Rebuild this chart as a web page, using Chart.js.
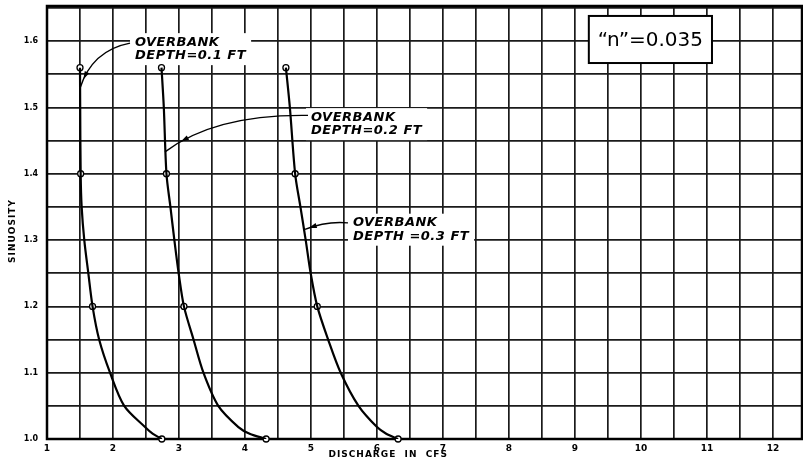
<!DOCTYPE html>
<html><head><meta charset="utf-8">
<script src="https://cdn.jsdelivr.net/npm/chart.js@4"></script>
<style>html,body{margin:0;padding:0;background:#fff;overflow:hidden}#wrap{position:relative;width:803px;height:467px}</style>
</head><body><div id="wrap"><canvas id="c"></canvas></div>
<script>
// ---- data ----
const seriesLabels = ['OVERBANK DEPTH=0.1 FT', 'OVERBANK DEPTH=0.2 FT', 'OVERBANK DEPTH=0.3 FT'];
// measured points (open circles)
const sinuosityMeasured = [1.56, 1.4, 1.2, 1.0];
const dischargeMeasured01 = [1.5, 1.51, 1.69, 2.74];
const dischargeMeasured02 = [2.735, 2.81, 3.075, 4.32];
const dischargeMeasured03 = [4.62, 4.76, 5.095, 6.32];
// points
const curveSinuosity = [1.56, 1.5, 1.4, 1.35, 1.3, 1.25, 1.2, 1.15, 1.1, 1.05, 1.018, 1.008, 1.0];
const curveDischarge01 = [1.5, 1.503, 1.51, 1.525, 1.565, 1.626, 1.69, 1.79, 1.955, 2.17, 2.485, 2.6, 2.74];
const curveDischarge02 = [2.735, 2.77, 2.81, 2.87, 2.93, 2.995, 3.075, 3.22, 3.37, 3.595, 3.90, 4.07, 4.32];
const curveDischarge03 = [4.62, 4.68, 4.76, 4.84, 4.92, 4.995, 5.095, 5.26, 5.45, 5.72, 6.0, 6.14, 6.32];
// axes
const xTickLabels = ['1','2','3','4','5','6','7','8','9','10','11','12'];
const yTickLabels = ['1.0','1.1','1.2','1.3','1.4','1.5','1.6'];
const xTitle = 'DISCHARGE  IN  CFS';
const yTitle = 'SINUOSITY';
const boxText = '\u201Cn\u201D=0.035';

const pts = (xs, ys) => xs.map((x, i) => ({x: x, y: ys[i]}));
const curves = [curveDischarge01, curveDischarge02, curveDischarge03];
const measured = [dischargeMeasured01, dischargeMeasured02, dischargeMeasured03];

const datasets = [];
curves.forEach((c, i) => datasets.push({
  label: seriesLabels[i], data: pts(c, curveSinuosity), showLine: true,
  borderColor: '#000', borderWidth: 2.2, pointRadius: 0, tension: 0.3, fill: false
}));
measured.forEach((m, i) => datasets.push({
  label: seriesLabels[i] + ' (measured)', data: pts(m, sinuosityMeasured), showLine: false, clip: false,
  pointRadius: 3, pointBackgroundColor: '#fff', pointBorderColor: '#000', pointBorderWidth: 1.3
}));

// annotation layout (data coordinates)
const notes = [
  {lines: ['OVERBANK', 'DEPTH=0.1 FT'], x: 2.333, y: 1.5985, lead: [[2.258, 1.597], [1.682, 1.586], [1.5, 1.529]]},
  {lines: ['OVERBANK', 'DEPTH=0.2 FT'], x: 5.0, y: 1.4854, lead: [[4.955, 1.488], [3.545, 1.49], [2.788, 1.433]]},
  {lines: ['OVERBANK', 'DEPTH =0.3 FT'], x: 5.636, y: 1.3262, lead: [[5.561, 1.326], [5.227, 1.329], [4.909, 1.316]]}
];
const boxPos = {x0: 9.21, x1: 11.076, y0: 1.638, y1: 1.567};

const labelFont = 'bold italic 13px "DejaVu Sans"';

const decor = {
  id: 'decor',
  beforeDatasetsDraw(chart) {
    const ctx = chart.ctx, sx = v => chart.scales.x.getPixelForValue(v), sy = v => chart.scales.y.getPixelForValue(v);
    const a = chart.chartArea;
    ctx.save();
    ctx.strokeStyle = '#000'; ctx.lineWidth = 2.5;
    ctx.strokeRect(a.left, a.top, a.right - a.left, a.bottom - a.top);
    ctx.font = labelFont; ctx.letterSpacing = '0.5px';
    notes.forEach(n => {
      const w = Math.max(...n.lines.map(t => ctx.measureText(t).width));
      const x0 = sx(n.x), y0 = sy(n.y);
      ctx.fillStyle = '#fff';
      ctx.fillRect(x0 - 5, y0 - 9, w + 10, 13.5 * n.lines.length + 5);
    });
    const bx0 = sx(boxPos.x0), bx1 = sx(boxPos.x1), by0 = sy(boxPos.y0), by1 = sy(boxPos.y1);
    ctx.fillStyle = '#fff';
    ctx.fillRect(bx0, by0, bx1 - bx0, by1 - by0);
    ctx.lineWidth = 2; ctx.strokeStyle = '#000';
    ctx.strokeRect(bx0, by0, bx1 - bx0, by1 - by0);
    ctx.letterSpacing = '0px';
    ctx.font = '20px "DejaVu Sans"'; ctx.fillStyle = '#000';
    ctx.textAlign = 'center'; ctx.textBaseline = 'middle';
    ctx.fillText(boxText, (bx0 + bx1) / 2, (by0 + by1) / 2 + 1);
    ctx.restore();
  },
  afterDatasetsDraw(chart) {
    const ctx = chart.ctx, sx = v => chart.scales.x.getPixelForValue(v), sy = v => chart.scales.y.getPixelForValue(v);
    ctx.save();
    ctx.fillStyle = '#000'; ctx.strokeStyle = '#000';
    notes.forEach(n => {
      ctx.font = labelFont; ctx.letterSpacing = '0.5px';
      ctx.textAlign = 'left'; ctx.textBaseline = 'middle';
      const x0 = sx(n.x), y0 = sy(n.y);
      n.lines.forEach((t, i) => ctx.fillText(t, x0, y0 + 13.5 * i));
      const p = n.lead.map(q => [sx(q[0]), sy(q[1])]);
      ctx.lineWidth = 1.4;
      ctx.beginPath(); ctx.moveTo(p[0][0], p[0][1]);
      ctx.quadraticCurveTo(p[1][0], p[1][1], p[2][0], p[2][1]); ctx.stroke();
      const t = 0.82, u = 1 - t;
      const ax = u*u*p[0][0] + 2*u*t*p[1][0] + t*t*p[2][0];
      const ay = u*u*p[0][1] + 2*u*t*p[1][1] + t*t*p[2][1];
      const dx = 2*u*(p[1][0]-p[0][0]) + 2*t*(p[2][0]-p[1][0]);
      const dy = 2*u*(p[1][1]-p[0][1]) + 2*t*(p[2][1]-p[1][1]);
      const L = Math.hypot(dx, dy), ux = dx / L, uy = dy / L;
      ctx.beginPath();
      ctx.moveTo(ax + ux * 4, ay + uy * 4);
      ctx.lineTo(ax - ux * 4 - uy * 2.5, ay - uy * 4 + ux * 2.5);
      ctx.lineTo(ax - ux * 4 + uy * 2.5, ay - uy * 4 - ux * 2.5);
      ctx.closePath(); ctx.fill();
    });
    ctx.restore();
  },
  afterDraw(chart) {
    const ctx = chart.ctx;
    ctx.save();
    ctx.fillStyle = '#000';
    ctx.font = 'bold 9px "DejaVu Sans"'; ctx.letterSpacing = '1px';
    ctx.textAlign = 'center'; ctx.textBaseline = 'middle';
    ctx.fillText(xTitle, chart.scales.x.getPixelForValue(6.17), 455);
    ctx.translate(13, 231); ctx.rotate(-Math.PI / 2);
    ctx.fillText(yTitle, 0, 0);
    ctx.restore();
  }
};

new Chart(document.getElementById('c'), {
  type: 'scatter',
  data: {datasets: datasets},
  plugins: [decor],
  options: {
    responsive: true, maintainAspectRatio: false, devicePixelRatio: 1, animation: false,
    layout: {autoPadding: false, padding: {top: 6, right: 1, left: 0, bottom: 0}},
    plugins: {legend: {display: false}, tooltip: {enabled: false}},
    scales: {
      x: {
        type: 'linear', min: 1, max: 12.44,
        afterFit(s) { s.height = 28; s.paddingLeft = 0; s.paddingRight = 0; },
        border: {display: false},
        grid: {color: '#1a1a1a', lineWidth: 1.7, drawTicks: false},
        ticks: {
          stepSize: 0.5, includeBounds: false, padding: 4, maxRotation: 0, autoSkip: false, color: '#000',
          font: {family: 'DejaVu Sans', size: 9, weight: 'bold'},
          callback: v => { const i = xTickLabels.indexOf(String(Math.round(v))); return (Math.abs(v - Math.round(v)) < 1e-6 && i >= 0) ? xTickLabels[i] : ''; }
        }
      },
      y: {
        type: 'linear', min: 1.0, max: 1.653,
        afterFit(s) { s.width = 47; s.paddingTop = 0; s.paddingBottom = 0; },
        border: {display: false},
        grid: {color: '#1a1a1a', lineWidth: 1.7, drawTicks: false},
        ticks: {
          stepSize: 0.05, includeBounds: false, padding: 9, autoSkip: false, color: '#000',
          font: {family: 'DejaVu Sans', size: 8, weight: 'bold'},
          callback: v => { const k = Math.round(v * 10); return (Math.abs(v * 10 - k) < 1e-6 && yTickLabels[k - 10]) ? yTickLabels[k - 10] : ''; }
        }
      }
    }
  }
});
</script></body></html>
